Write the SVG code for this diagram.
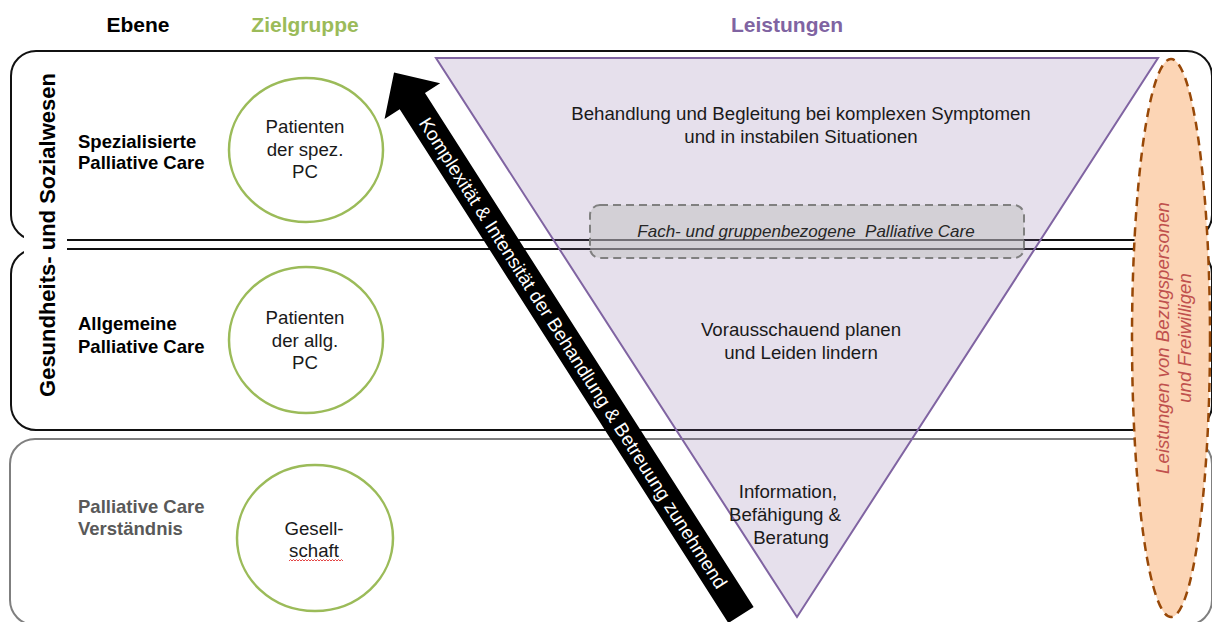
<svg xmlns="http://www.w3.org/2000/svg" width="1212" height="622" viewBox="0 0 1212 622">
  <style>
    text { font-family: "Liberation Sans", Arial, sans-serif; }
    .hdr { font-size: 21px; font-weight: bold; text-anchor: middle; }
    .lvl { font-size: 18.5px; font-weight: bold; fill: #000; }
    .grp { font-size: 18.67px; fill: #1a1a1a; text-anchor: middle; }
    .svc { font-size: 18.67px; fill: #1a1a1a; text-anchor: middle; }
    .circ { fill: #fff; stroke: #9BBB59; stroke-width: 2.5; }
    .panel { fill: none; stroke: #111; stroke-width: 2; }
  </style>
  <rect width="1212" height="622" fill="#fff"/>

  <!-- headers -->
  <g id="headers">
    <text class="hdr" x="138" y="32" fill="#000">Ebene</text>
    <text class="hdr" x="305" y="32" fill="#9BBB59">Zielgruppe</text>
    <text class="hdr" x="787" y="32" fill="#8064A2">Leistungen</text>
  </g>

  <!-- level panels -->
  <g id="panel-spezialisiert">
    <rect class="panel" x="11" y="51" width="1201" height="189" rx="25"/>
  </g>
  <g id="panel-allgemein">
    <rect class="panel" x="11" y="249" width="1201" height="181" rx="25"/>
  </g>
  <g id="panel-verstaendnis">
    <rect x="10" y="439" width="1202" height="186" rx="25" fill="none" stroke="#7F7F7F" stroke-width="2"/>
  </g>
  <rect x="24" y="222" width="43" height="40" fill="#fff"/>

  <g id="label-gesundheitswesen">
    <text transform="translate(54.5,235) rotate(-90)" text-anchor="middle" font-size="22" font-weight="bold" fill="#000">Gesundheits- und Sozialwesen</text>
  </g>

  <!-- level labels -->
  <g id="ebene-spezialisiert">
    <text class="lvl" x="78" y="148">Spezialisierte</text>
    <text class="lvl" x="78" y="169">Palliative Care</text>
  </g>
  <g id="ebene-allgemein">
    <text class="lvl" x="78" y="330">Allgemeine</text>
    <text class="lvl" x="78" y="353">Palliative Care</text>
  </g>
  <g id="ebene-verstaendnis">
    <text class="lvl" x="78" y="513" fill="#595959" style="fill:#595959">Palliative Care</text>
    <text class="lvl" x="78" y="535" style="fill:#595959">Verständnis</text>
  </g>

  <!-- target groups -->
  <g id="zielgruppe-spez">
    <ellipse class="circ" cx="306" cy="150" rx="77" ry="72"/>
    <text class="grp" x="305" y="133">Patienten</text>
    <text class="grp" x="305" y="156">der spez.</text>
    <text class="grp" x="305" y="178">PC</text>
  </g>
  <g id="zielgruppe-allg">
    <ellipse class="circ" cx="306" cy="340" rx="77" ry="73"/>
    <text class="grp" x="305" y="324">Patienten</text>
    <text class="grp" x="305" y="347">der allg.</text>
    <text class="grp" x="305" y="369">PC</text>
  </g>
  <g id="zielgruppe-gesellschaft">
    <ellipse class="circ" cx="315" cy="538" rx="78" ry="73"/>
    <text class="grp" x="314" y="535">Gesell-</text>
    <text class="grp" x="314" y="557">schaft</text>
    <path d="M289,561 l1.5,-1.5 l1.5,1.5 l1.5,-1.5 l1.5,1.5 l1.5,-1.5 l1.5,1.5 l1.5,-1.5 l1.5,1.5 l1.5,-1.5 l1.5,1.5 l1.5,-1.5 l1.5,1.5 l1.5,-1.5 l1.5,1.5 l1.5,-1.5 l1.5,1.5 l1.5,-1.5 l1.5,1.5 l1.5,-1.5 l1.5,1.5 l1.5,-1.5 l1.5,1.5 l1.5,-1.5 l1.5,1.5 l1.5,-1.5 l1.5,1.5 l1.5,-1.5 l1.5,1.5 l1.5,-1.5 l1.5,1.5 l1.5,-1.5 l1.5,1.5 l1.5,-1.5 l1.5,1.5 l1.5,-1.5 l1.5,1.5" fill="none" stroke="#E03030" stroke-width="0.9"/>
  </g>

  <!-- services triangle -->
  <g id="leistungen">
    <polygon points="436,58 1158,58 797,617" fill="#8064A2" fill-opacity="0.2" stroke="#8064A2" stroke-width="2" stroke-linejoin="miter"/>
    <text class="svc" x="801" y="120">Behandlung und Begleitung bei komplexen Symptomen</text>
    <text class="svc" x="801" y="143">und in instabilen Situationen</text>
    <text class="svc" x="801" y="336">Vorausschauend planen</text>
    <text class="svc" x="801" y="359">und Leiden lindern</text>
    <text class="svc" x="788" y="498">Information,</text>
    <text class="svc" x="785" y="521">Befähigung &amp;</text>
    <text class="svc" x="791" y="544">Beratung</text>
  </g>

  <g id="fach-gruppenbezogen">
    <rect x="590" y="205" width="434" height="53" rx="10" fill="#BFBFBF" fill-opacity="0.5" stroke="#808080" stroke-width="2" stroke-dasharray="8 5"/>
    <text x="806" y="237" text-anchor="middle" font-size="17" font-style="italic" fill="#262626" xml:space="preserve">Fach- und gruppenbezogene  Palliative Care</text>
  </g>

  <!-- increasing complexity arrow -->
  <g id="connectors">
    <g transform="translate(741,615) rotate(-32.6)">
      <polygon points="-15,0 -15,-610 -33,-610 0,-644 33,-610 15,-610 15,0" fill="#000"/>
    </g>
    <text transform="translate(573,353) rotate(57.4)" x="0" y="6.5" text-anchor="middle" font-size="19" fill="#fff">Komplexität &amp; Intensität der Behandlung &amp; Betreuung zunehmend</text>
  </g>

  <!-- volunteers ellipse -->
  <g id="bezugspersonen">
    <ellipse cx="1171" cy="338" rx="39" ry="279" fill="#FCD5B5" stroke="#984807" stroke-width="2.5" stroke-dasharray="9 6"/>
    <text transform="translate(1168.5,338) rotate(-90)" text-anchor="middle" font-size="18.67" font-style="italic" fill="#C0504D">Leistungen von Bezugspersonen</text>
    <text transform="translate(1191,338) rotate(-90)" text-anchor="middle" font-size="18.67" font-style="italic" fill="#C0504D">und Freiwilligen</text>
  </g>
</svg>
